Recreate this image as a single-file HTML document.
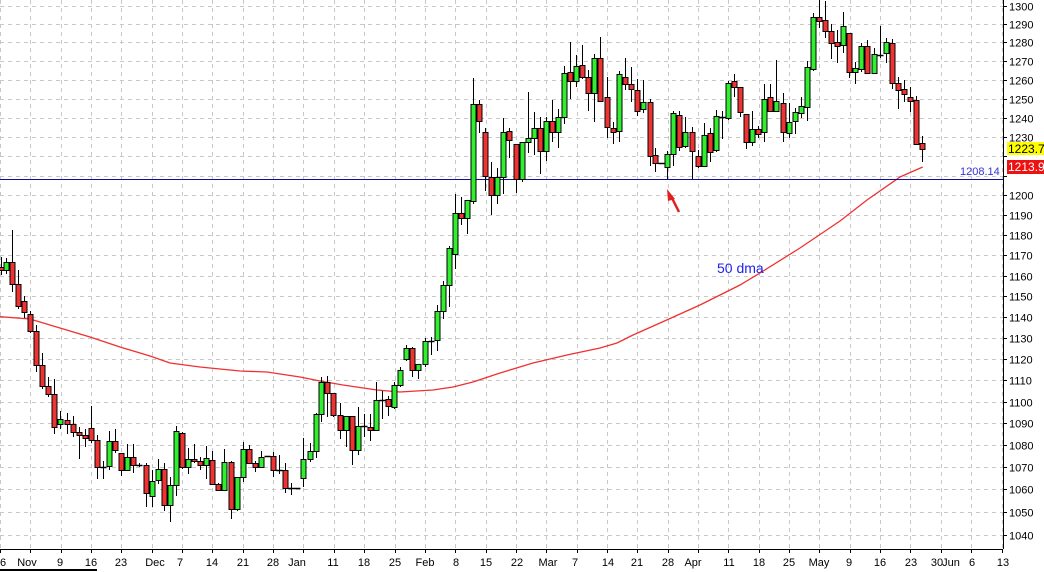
<!DOCTYPE html>
<html><head><meta charset="utf-8"><style>
html,body{margin:0;padding:0;background:#fff;width:1044px;height:572px;overflow:hidden}
svg{display:block}
text{font-family:"Liberation Sans",sans-serif}
</style></head><body>
<svg id="c" width="1044" height="572" xmlns="http://www.w3.org/2000/svg"></svg>
<script>
const S=document.getElementById('c');let h='';
function yP(p){return 5.7+2370*Math.log(1300/p);}
for(let p=1040;p<=1300;p+=10){const y=Math.round(yP(p))+0.5;
 h+=`<line x1="0" y1="${y}" x2="1003" y2="${y}" stroke="#c8c8c8" stroke-dasharray="4,4"/>`;
 h+=`<line x1="1003" y1="${y}" x2="1007" y2="${y}" stroke="#000"/>`;
 if(p!==1210&&p!==1220)h+=`<text x="1009" y="${y+4}" font-size="11" fill="#000">${p}</text>`;}
for(let k=-1;k<=32;k++){const x=Math.round(30.3+30.35*k)+0.5;if(x<0)continue;
 h+=`<line x1="${x}" y1="0" x2="${x}" y2="549" stroke="#c8c8c8" stroke-dasharray="4,4"/>`;
 h+=`<line x1="${x}" y1="549" x2="${x}" y2="553" stroke="#000"/>`;}
h+=`<line x1="1003.5" y1="0" x2="1003.5" y2="549" stroke="#000"/>`;
h+=`<line x1="0" y1="549.5" x2="1003" y2="549.5" stroke="#000"/>`;
const L=[["6",3],["Nov",27],["9",60],["16",91],["23",121],["Dec",155],["7",180],["14",212],["21",243],["28",273],["Jan",297],["11",333],["18",364],["25",395],["Feb",425],["8",456],["15",486],["22",517],["Mar",548],["7",575],["14",608],["21",637],["28",668],["Apr",693],["11",729],["18",759],["25",789],["May",819],["9",849],["16",880],["23",911],["30",937],["Jun",951],["6",972],["13",1003]];
for(const [t,x] of L)h+=`<text x="${x}" y="566" font-size="11" text-anchor="middle" fill="#000">${t}</text>`;
h+=`<rect x="0" y="569" width="97" height="2" fill="#000"/>`;
const M=[[0,316.7],[30,319],[60,328],[90,337],[120,347],[150,356],[170,363],[200,367],[240,371],[267,372],[300,377],[320,381],[343,385],[377,390],[400,392],[433,390],[453,387],[473,382],[500,373],[533,363],[567,355],[600,348],[617,343],[633,335],[660,323],[700,305],[740,285],[760,273],[800,248],[840,221],[867,200],[900,177],[922.7,167]];
h+=`<polyline fill="none" stroke="#f03030" stroke-width="1.3" points="${M.map(p=>p.join(',')).join(' ')}"/>`;
h+=`<line x1="0" y1="179.5" x2="1003" y2="179.5" stroke="#1010a0" stroke-width="1"/>`;
const C=[
[1,'r',257,267,270,275],[6.3,'g',258,262,270,274],[12.3,'r',230,262,284,292],[18.3,'r',270,284,306,309],[24.3,'r',296,301,312,318],[30.3,'r',311,314,331,333],[36.3,'r',325,331,365,372],[42.3,'r',353,365,386,389],[48.3,'r',377,386,394,397],[54.3,'r',379,394,427,434],[60.3,'g',411,419,424,429],[66.7,'r',413,420,424,434],[72.7,'r',416,424,432,437],[79,'r',427,432,435,459],[85,'r',429,435,438,447],[91,'r',406,428,440,443],[97.3,'r',435,440,467,479],[103.3,'d',461,467,467,479],[109.3,'g',431,441,466,470],[115.3,'r',429,441,450,453],[121.3,'r',453,453,470,476],[127.3,'g',444,457,470,470],[133.3,'r',444,457,465,473],[139.3,'d',463,465,465,467],[145.7,'r',463,465,493,507],[151.7,'g',470,481,496,507],[158,'g',459,469,480,484],[164,'r',463,469,505,511],[170.3,'g',477,485,505,522],[176.3,'g',426,431,485,496],[182.3,'r',432,433,467,469],[188.3,'g',448,459,467,474],[194.3,'r',444,459,461,463],[200.3,'r',457,461,465,470],[206.3,'g',446,458,465,479],[212.3,'r',451,460,484,485],[218.3,'r',483,484,490,491],[224.3,'g',449,462,490,490],[230.7,'r',461,462,509,519],[236.7,'g',477,477,509,511],[242.7,'g',442,449,477,482],[249,'r',445,449,463,464],[255,'r',461,463,467,472],[261,'g',451,457,467,467],[267,'d',456,456,456,456],[273.3,'r',452,456,470,477],[279.3,'d',455,470,470,474],[285.3,'r',463,470,488,493],[291.3,'d',483,488,488,495],[297.3,'d',488,488,488,488],[303.3,'g',438,459,478,487],[309.7,'g',443,451,459,462],[315.7,'g',413,414,451,458],
[321.3,'g',377,382,414,422],[327.3,'r',376,382,393,417],[333.3,'r',393,393,415,417],[340.3,'r',403,415,430,439],[346.3,'g',416,416,430,447],[352.3,'r',416,416,450,465],[358.3,'g',407,426,450,455],[364.3,'d',414,426,426,437],[370.3,'r',414,427,430,441],[376.3,'g',382,400,430,431],[382.3,'d',391,400,400,419],[388.3,'r',396,399,406,416],[394.3,'g',382,385,407,409],[400.3,'g',367,370,385,387],[406.3,'g',345,348,359,361],[412.3,'r',347,348,370,377],[418.3,'g',364,364,370,379],[425,'g',338,341,364,367],[431,'d',337,341,341,355],[437,'g',305,311,340,351],[443,'g',281,285,311,319],[449,'g',246,248,285,307],[455,'g',194,213,254,269],[461,'r',197,213,218,225],[467,'g',200,200,218,234],[473,'g',78,104,201,204],[479,'r',100,104,121,133],[485,'r',128,132,176,191],[491,'r',162,177,195,215],[497,'g',168,177,195,204],[503,'g',118,132,177,194],[509,'r',128,131,140,158],[516,'r',144,144,179,193],[522,'g',142,142,179,182],[528,'g',92,138,142,153],[534,'g',112,128,138,155],[540,'r',117,128,151,174],[546,'g',117,121,151,161],[552,'r',100,121,132,142],[558,'g',109,117,132,148],[564,'g',66,73,117,124],[570,'r',42,72,81,99],[576,'g',55,66,81,87],[582,'r',45,65,77,79],[588,'r',70,77,93,111],[594,'g',54,58,93,122],[600,'r',37,58,101,101],[607,'r',77,97,127,138],[613,'r',122,128,132,144],[619,'g',71,74,131,142],[625,'r',58,77,84,90],[631,'r',67,84,89,102],[637,'r',79,90,111,116],[643,'g',80,102,109,113],[649.5,'r',99,102,156,166],[655,'r',148,155,163,172],[661,'d',163,163,163,163],[667,'g',151,154,167,179],[673,'g',111,113,154,166],[679,'r',111,115,147,151],[685,'g',117,132,146,148],[692,'r',127,132,151,179],[698,'r',150,156,166,168],[704,'g',123,135,166,167],[710,'r',128,133,152,162],[716,'g',110,116,150,152],[722,'d',111,117,117,139],[728,'g',81,83,118,120],[734,'r',74,81,87,97],[740,'r',87,87,112,117],[746,'r',114,114,142,149],[752,'g',111,129,142,146],[758,'r',126,129,134,138],[764,'g',84,99,132,142],[770,'r',84,97,111,112],[776,'g',60,101,111,112],[783,'r',93,103,132,142],[789,'g',103,122,133,138],[795,'g',108,112,121,134],[801,'g',97,106,113,118],[807,'g',61,67,107,121],[813,'g',13,17,69,71],[819,'r',0,17,21,28],[825,'r',1,20,31,38],[831,'r',24,31,43,59],[837,'r',30,42,46,63],[843,'g',12,26,45,53],[849,'r',33,33,72,78],[855,'g',62,68,72,84],[861,'g',43,46,69,72],[867,'r',40,46,73,73],[874,'g',48,54,73,73],[880,'d',26,55,55,58],[886,'g',38,42,53,63],[892,'r',39,43,83,89],[898,'r',77,83,90,109],[904,'r',80,89,94,102],[910,'r',87,97,101,112],[916,'r',96,100,144,145],[922,'r',136,143,149,162]];
for(const [x0,t,wt,bt,bb,wb] of C){const x=Math.round(x0)+0.5;
 h+=`<line x1="${x}" y1="${wt}" x2="${x}" y2="${wb}" stroke="#000"/>`;
 if(t==='d'){h+=`<line x1="${x-3}" y1="${bt+0.5}" x2="${x+3}" y2="${bt+0.5}" stroke="#000" stroke-width="1.5"/>`;}
 else{const hh=Math.max(bb-bt,2);h+=`<rect x="${x-2.5}" y="${bt+0.5}" width="5" height="${hh}" fill="${t==='g'?'#2fef2f':'#ef3333'}" stroke="#000"/>`;}}
h+=`<text x="960" y="175" font-size="11" fill="#3333dd">1208.14</text>`;
h+=`<rect x="1007" y="142" width="37" height="13" fill="#ffff00"/><text x="1008" y="153" font-size="12" fill="#000">1223.7</text>`;
h+=`<rect x="1007" y="160" width="37" height="14" fill="#ee1111"/><text x="1008" y="171" font-size="12" fill="#fff">1213.9</text>`;
h+=`<text x="717" y="273" font-size="14" fill="#2222ee">50 dma</text>`;
h+=`<line x1="679" y1="212" x2="671" y2="196" stroke="#e02020" stroke-width="2.5"/>`;
h+=`<polygon points="667,189 675,199 668,201" fill="#e02020"/>`;
S.innerHTML=h;
</script>
</body></html>
